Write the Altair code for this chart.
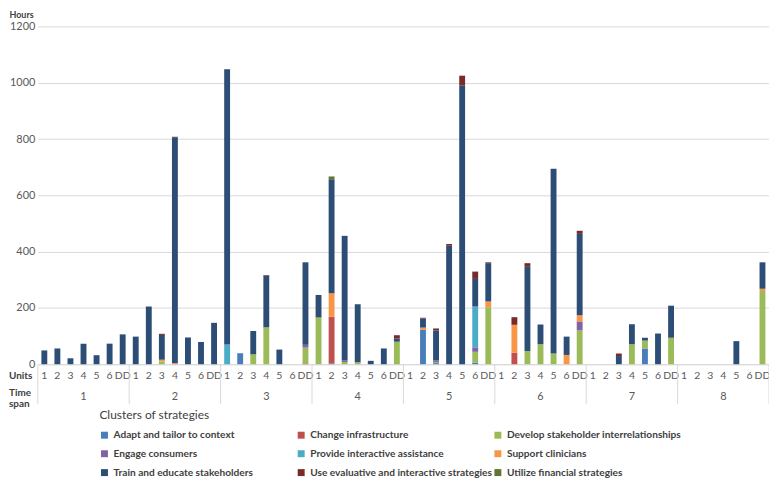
import altair as alt
import pandas as pd

units = ["1", "2", "3", "4", "5", "6", "7", "8"]
time_spans = ["1", "2", "3", "4", "5", "6", "DD"]

clusters = [
    "Adapt and tailor to context",
    "Change infrastructure",
    "Develop stakeholder interrelationships",
    "Engage consumers",
    "Provide interactive assistance",
    "Support clinicians",
    "Train and educate stakeholders",
    "Use evaluative and interactive strategies",
    "Utilize financial strategies",
]
colors = ["#4A7EBB", "#C0504D", "#9BBB59", "#8064A2", "#4BACC6",
          "#F79646", "#2C4D75", "#772C2A", "#5F7530"]

# values per unit (rows) and time span 1..6, DD (columns)
adapt = [0, 0, 0, 0, 0, 0, 0,
         0, 0, 0, 0, 0, 0, 0,
         0, 39, 0, 0, 0, 0, 0,
         0, 3, 0, 0, 0, 0, 0,
         0, 123, 4, 0, 0, 6, 0,
         0, 0, 0, 0, 0, 0, 0,
         0, 0, 0, 0, 56, 0, 0,
         0, 0, 0, 0, 0, 0, 0]
change = [0, 0, 0, 0, 0, 0, 0,
          0, 0, 0, 0, 0, 0, 0,
          0, 0, 0, 0, 0, 0, 3,
          0, 166, 0, 0, 0, 0, 0,
          0, 0, 0, 0, 0, 0, 0,
          0, 41, 0, 0, 0, 0, 0,
          0, 0, 0, 0, 0, 0, 0,
          0, 0, 0, 0, 0, 0, 0]
develop = [0, 0, 0, 0, 0, 0, 0,
           0, 0, 10, 0, 0, 0, 0,
           0, 0, 35, 131, 0, 0, 56,
           166, 0, 8, 7, 0, 0, 80,
           0, 0, 4, 0, 0, 38, 202,
           0, 0, 47, 71, 38, 0, 120,
           0, 0, 0, 71, 28, 0, 94,
           0, 0, 0, 0, 0, 0, 260]
engage = [0, 0, 0, 0, 0, 0, 0,
          0, 0, 0, 0, 0, 0, 0,
          0, 0, 0, 0, 0, 0, 10,
          0, 0, 5, 0, 0, 0, 0,
          0, 0, 6, 0, 0, 16, 0,
          0, 0, 0, 0, 0, 0, 32,
          0, 0, 0, 0, 0, 0, 0,
          0, 0, 0, 0, 0, 0, 0]
provide = [0, 0, 0, 0, 0, 0, 0,
           0, 0, 0, 0, 0, 0, 0,
           70, 0, 0, 0, 0, 0, 0,
           0, 0, 0, 0, 0, 0, 0,
           0, 0, 0, 0, 0, 145, 0,
           0, 0, 0, 0, 0, 0, 0,
           0, 0, 0, 0, 0, 0, 0,
           0, 0, 0, 0, 0, 0, 0]
support = [0, 0, 0, 0, 0, 0, 0,
           0, 0, 6, 3, 0, 0, 0,
           0, 0, 0, 0, 0, 0, 0,
           0, 83, 0, 0, 0, 0, 0,
           0, 7, 0, 0, 0, 0, 21,
           0, 99, 0, 0, 0, 33, 22,
           0, 0, 0, 0, 0, 0, 0,
           0, 0, 0, 0, 0, 0, 8]
train = [49, 56, 21, 73, 32, 73, 106,
         98, 205, 88, 803, 95, 79, 147,
         978, 0, 83, 184, 52, 0, 293,
         80, 405, 443, 206, 12, 56, 11,
         0, 33, 106, 421, 990, 98, 136,
         0, 0, 299, 70, 656, 65, 289,
         0, 0, 29, 71, 10, 109, 114,
         0, 0, 0, 0, 82, 0, 94]
evaluate = [0, 0, 0, 0, 0, 0, 0,
            0, 0, 4, 2, 0, 0, 0,
            0, 0, 0, 2, 0, 0, 0,
            0, 0, 0, 0, 0, 0, 12,
            0, 2, 7, 6, 35, 26, 3,
            0, 27, 13, 0, 0, 0, 11,
            0, 0, 9, 0, 0, 0, 0,
            0, 0, 0, 0, 0, 0, 0]
financial = [0, 0, 0, 0, 0, 0, 0,
             0, 0, 0, 0, 0, 0, 0,
             0, 0, 0, 0, 0, 0, 0,
             0, 10, 0, 0, 0, 0, 0,
             0, 0, 0, 0, 0, 0, 0,
             0, 0, 0, 0, 0, 0, 0,
             0, 0, 0, 0, 0, 0, 0,
             0, 0, 0, 0, 0, 0, 0]

series = [adapt, change, develop, engage, provide, support, train, evaluate, financial]

keys = [f"{u}-{t}" for u in units for t in time_spans]
rows = []
for ci, (name, vals) in enumerate(zip(clusters, series)):
    for k, v in zip(keys, vals):
        if v > 0:
            rows.append({"key": k, "cluster": name, "ci": ci, "value": v})
df = pd.DataFrame(rows)

FONT = "Lato"
GRID = "#d9d9d9"
TXT = "#595959"

bars = alt.Chart(df).mark_bar().encode(
    x=alt.X("key:N", sort=keys,
            scale=alt.Scale(domain=keys, paddingInner=0.55, paddingOuter=0.275),
            axis=alt.Axis(title=None, labelExpr="split(datum.value, '-')[1]",
                          labelAngle=0, ticks=False, domain=True, domainColor=GRID,
                          labelColor=TXT, labelFontSize=10.5, labelPadding=6,
                          grid=False)),
    y=alt.Y("value:Q", stack="zero",
            scale=alt.Scale(domain=[0, 1200], nice=False),
            axis=alt.Axis(values=[0, 200, 400, 600, 800, 1000, 1200], format="d",
                          title="Hours", titleAngle=0, titleX=-29, titleY=-12,
                          titleAlign="left", titleBaseline="middle",
                          titleFontSize=9, titleFontWeight="bold", titleColor="#404040",
                          grid=True, gridColor=GRID, domain=False, ticks=False,
                          labelColor=TXT, labelFontSize=11, labelPadding=3)),
    color=alt.Color("cluster:N",
                    scale=alt.Scale(domain=clusters, range=colors),
                    legend=alt.Legend(title="Clusters of strategies", orient="none",
                                      legendX=62, legendY=386, direction="horizontal",
                                      columns=3, gridAlign="all", columnPadding=0,
                                      rowPadding=8, titlePadding=8,
                                      symbolType="square", symbolSize=49,
                                      symbolStrokeWidth=0, labelFontSize=10.2,
                                      labelFontWeight="bold", labelColor="#404040",
                                      labelLimit=400, titleFontSize=12,
                                      titleFontWeight="normal", titleColor="#404040")),
    order=alt.Order("ci:Q", sort="ascending"),
)

bounds = pd.DataFrame({"pos": [0, 7, 14, 21, 28, 35, 42, 49, 56]})
xq = alt.X("pos:Q", scale=alt.Scale(domain=[0, 56], nice=False, zero=True), axis=None)
seps = alt.Chart(bounds).mark_rule(color=GRID, strokeWidth=1).encode(
    x=xq, y=alt.value(340), y2=alt.value(380))

unit_df = pd.DataFrame({"pos": [3.5 + 7 * i for i in range(8)], "unit": units})
unit_text = alt.Chart(unit_df).mark_text(fontSize=11, color=TXT, baseline="middle").encode(
    x=xq, y=alt.value(373), text="unit:N")

side_df = pd.DataFrame({"label": ["Units", "Time\nspan"], "yy": [352, 369]})
side_text = alt.Chart(side_df).mark_text(fontSize=10, color="#404040", fontWeight="bold",
                                         align="left", baseline="middle",
                                         lineBreak="\n", lineHeight=11).encode(
    x=alt.value(-29), y=alt.Y("yy:Q", scale=None), text="label:N")

chart = alt.layer(bars, seps, unit_text, side_text).resolve_scale(
    x="independent", y="independent"
).properties(
    width=736, height=340,
    autosize=alt.AutoSizeParams(type="none"),
    padding={"left": 30, "top": 17, "right": 0, "bottom": 115},
).configure(font=FONT).configure_view(stroke=None)

chart.save("out.html", embed_options={"renderer": "svg", "actions": False})
